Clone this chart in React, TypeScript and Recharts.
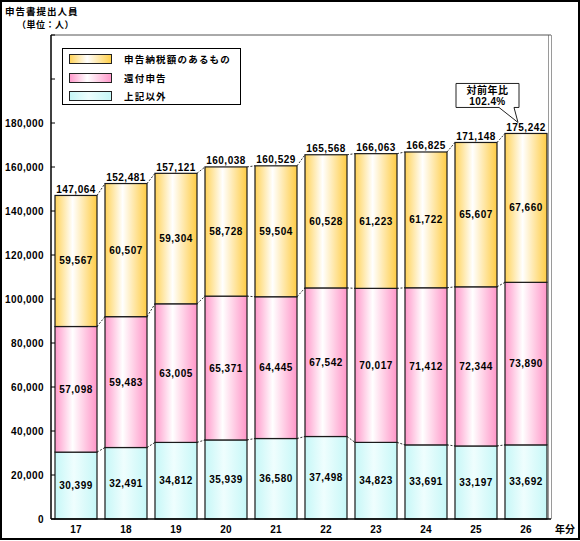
import React from 'react';
import { BarChart, Bar, XAxis, YAxis, LabelList, Legend, ReferenceLine } from 'recharts';

const years = ['17', '18', '19', '20', '21', '22', '23', '24', '25', '26'];
const others = [30399, 32491, 34812, 35939, 36580, 37498, 34823, 33691, 33197, 33692];
const refund = [57098, 59483, 63005, 65371, 64445, 67542, 70017, 71412, 72344, 73890];
const payment = [59567, 60507, 59304, 58728, 59504, 60528, 61223, 61722, 65607, 67660];
const seriesNames = ['上記以外', '還付申告', '申告納税額のあるもの'];
const yTicks = [0, 20000, 40000, 60000, 80000, 100000, 120000, 140000, 160000, 180000, 200000, 220000];
const maxLabeledTick = 180000;
const ratioText = ['対前年比', '102.4%'];
const titleText = '申告書提出人員';
const unitText = '（単位：人）';
const xUnitText = '年分';

const seriesValues = [others, refund, payment];
const seriesKeys = ['others', 'refund', 'payment'];
const gradIds = ['gCyan', 'gPink', 'gYellow'];
const edgeColors = ['#c6f7f7', '#ff9acb', '#ffd35a'];
const cssGrad = [
  'linear-gradient(90deg,#c6f7f7 0%,#eefefe 45%,#c6f7f7 100%)',
  'linear-gradient(90deg,#ff9acb 0%,#ffffff 42%,#ff9acb 100%)',
  'linear-gradient(90deg,#ffd35a 0%,#ffffff 42%,#ffcf48 100%)',
];

const data = years.map((y, i) => ({
  year: y,
  others: others[i],
  refund: refund[i],
  payment: payment[i],
  total: others[i] + refund[i] + payment[i],
}));

const CAT_GAP = 4;
const FONT = '"Liberation Sans", Arial, sans-serif';
const CJK = '"Noto Sans CJK JP", sans-serif';
const fmt = (v: number) => v.toLocaleString('en-US');

function cumulative(seriesIdx: number, i: number) {
  let s = 0;
  for (let k = 0; k <= seriesIdx; k++) s += seriesValues[k][i];
  return s;
}

function makeShape(seriesIdx: number) {
  return (props: any) => {
    const { x, y, width, height, index } = props;
    const v = seriesValues[seriesIdx][index];
    const ppu = v ? height / v : 0;
    let connector = null;
    if (index < years.length - 1) {
      const upper = cumulative(seriesIdx, index);
      const nextUpper = cumulative(seriesIdx, index + 1);
      const ny = y - (nextUpper - upper) * ppu;
      connector = (
        <line x1={x + width} y1={y} x2={x + width + 2 * CAT_GAP} y2={ny} stroke="#333" strokeWidth={1} strokeDasharray="2 1.5" />
      );
    }
    return (
      <g>
        <rect x={x} y={y} width={width} height={height} fill={`url(#${gradIds[seriesIdx]})`} stroke="#1a1a1a" strokeWidth={1.2} />
        {connector}
      </g>
    );
  };
}

const YTick = (props: any) => {
  const { x, y, payload } = props;
  if (payload.value > maxLabeledTick) return null;
  return (
    <text x={x} y={y} dy={3.5} textAnchor="end" fontFamily={FONT} fontWeight="bold" fontSize={10} letterSpacing={0.4} fill="#000">
      {fmt(payload.value)}
    </text>
  );
};

const XTick = (props: any) => {
  const { x, y, payload } = props;
  return (
    <text x={x} y={y} dy={8} textAnchor="middle" fontFamily={FONT} fontWeight="bold" fontSize={10} letterSpacing={0.3} fill="#000">
      {payload.value}
    </text>
  );
};

const segLabel = (props: any) => {
  const { x, y, width, height, value } = props;
  return (
    <text x={x + width / 2} y={y + height / 2} dy={3.5} textAnchor="middle" fontFamily={FONT} fontWeight="bold" fontSize={10} letterSpacing={0.5} fill="#000">
      {fmt(value)}
    </text>
  );
};

const totalLabel = (props: any) => {
  const { x, y, width, value, index } = props;
  const cx = x + width / 2;
  const t = (
    <text x={cx} y={y - 2.5} textAnchor="middle" fontFamily={FONT} fontWeight="bold" fontSize={10} letterSpacing={0.5} fill="#000">
      {fmt(value)}
    </text>
  );
  if (index !== years.length - 1) return t;
  const tipX = cx - 8;
  const tipY = y - 11;
  const bx = tipX - 62;
  const by = tipY - 39;
  const bw = 63;
  const bh = 24;
  const path = `M${bx},${by} H${bx + bw} V${by + bh} H${tipX - 4} L${tipX},${tipY} L${tipX - 19},${by + bh} H${bx} Z`;
  return (
    <g>
      {t}
      <path d={path} fill="#fff" stroke="#222" strokeWidth={1} />
      <text x={bx + bw / 2} y={by + 11} textAnchor="middle" fontFamily={CJK} fontWeight="bold" fontSize={10} letterSpacing={0.5} fill="#000">
        {ratioText[0]}
      </text>
      <text x={bx + bw / 2} y={by + 22} textAnchor="middle" fontFamily={FONT} fontWeight="bold" fontSize={10} letterSpacing={0.4} fill="#000">
        {ratioText[1]}
      </text>
    </g>
  );
};

const rowTops = [5, 24, 42];

const LegendBox = (props: any) => {
  const payload = (props.payload || [])
    .slice()
    .sort((a: any, b: any) => seriesKeys.indexOf(b.dataKey) - seriesKeys.indexOf(a.dataKey));
  return (
    <div style={{ position: 'relative', border: '1px solid #000', background: '#fff', width: 179, height: 57, boxSizing: 'border-box' }}>
      {payload.map((p: any, i: number) => {
        const si = seriesKeys.indexOf(p.dataKey);
        return (
          <div key={i} style={{ position: 'absolute', left: 6, top: rowTops[i], display: 'flex', alignItems: 'center', height: 10 }}>
            <div style={{ width: 43, height: 10, border: '1px solid #222', background: cssGrad[si], boxSizing: 'border-box' }} />
            <span style={{ marginLeft: 12, fontFamily: CJK, fontWeight: 'bold', fontSize: 9.5, letterSpacing: 1.2, color: '#000', lineHeight: '10px', whiteSpace: 'nowrap' }}>
              {p.value}
            </span>
          </div>
        );
      })}
    </div>
  );
};

export default function App() {
  return (
    <div style={{ position: 'absolute', left: 0, top: 0, width: 580, height: 541, background: '#fff' }}>
      <svg width={0} height={0} style={{ position: 'absolute' }}>
        <defs>
          <linearGradient id="gCyan" x1="0" y1="0" x2="1" y2="0">
            <stop offset="0%" stopColor="#c6f7f7" />
            <stop offset="45%" stopColor="#effefe" />
            <stop offset="100%" stopColor="#c6f7f7" />
          </linearGradient>
          <linearGradient id="gPink" x1="0" y1="0" x2="1" y2="0">
            <stop offset="0%" stopColor="#ff9acb" />
            <stop offset="42%" stopColor="#ffffff" />
            <stop offset="100%" stopColor="#ff96c8" />
          </linearGradient>
          <linearGradient id="gYellow" x1="0" y1="0" x2="1" y2="0">
            <stop offset="0%" stopColor="#ffd35a" />
            <stop offset="42%" stopColor="#ffffff" />
            <stop offset="100%" stopColor="#ffcc44" />
          </linearGradient>
        </defs>
      </svg>
      <div style={{ position: 'absolute', left: 0, top: 0, width: 580, height: 540, border: '2px solid #000', boxSizing: 'border-box', pointerEvents: 'none', zIndex: 3 }} />
      <svg width={120} height={34} style={{ position: 'absolute', left: 0, top: 0 }}>
        <text x={5} y={14.5} fontFamily={CJK} fontWeight="bold" fontSize={9.5} letterSpacing={1} fill="#000">
          {titleText}
        </text>
        <text x={17} y={27.8} fontFamily={CJK} fontWeight="bold" fontSize={9} letterSpacing={0.5} fill="#000">
          {unitText}
        </text>
      </svg>
      <div style={{ position: 'absolute', left: 51, top: 35, width: 497, height: 484, borderRight: '1px solid #9a9a9a', pointerEvents: 'none' }} />
      <div style={{ position: 'absolute', left: 51, top: 35, width: 500, height: 484, borderRight: '1px solid #9a9a9a', pointerEvents: 'none' }} />
      <div style={{ position: 'absolute', left: 0, top: 0 }}>
        <BarChart
          width={580}
          height={541}
          data={data}
          margin={{ top: 35, right: 29, bottom: 2, left: 6 }}
          barCategoryGap={CAT_GAP}
        >
          <XAxis
            dataKey="year"
            height={20}
            tickLine={false}
            tickSize={0}
            tickMargin={6}
            axisLine={{ stroke: '#000', strokeWidth: 1.5 }}
            tick={<XTick />}
            label={{ value: xUnitText, position: 'right', offset: 4, fontFamily: CJK, fontWeight: 'bold', fontSize: 10, fill: '#000' }}
          />
          <YAxis
            width={45}
            domain={[0, 220000]}
            ticks={yTicks}
            interval={0}
            tickSize={-4}
            tickMargin={11}
            axisLine={{ stroke: '#000', strokeWidth: 1.5 }}
            tickLine={{ stroke: '#000' }}
            tick={<YTick />}
          />
          <ReferenceLine y={220000} stroke="#555" strokeWidth={1} />
          <Legend
            layout="horizontal"
            verticalAlign="middle"
            align="center"
            content={<LegendBox />}
            wrapperStyle={{ left: 62, top: 48, width: 179, height: 57 }}
          />
          {seriesKeys.map((k, si) => (
            <Bar
              key={k}
              dataKey={k}
              name={seriesNames[si]}
              stackId="s"
              fill={edgeColors[si]}
              isAnimationActive={false}
              shape={makeShape(si)}
            >
              <LabelList dataKey={k} content={segLabel} />
              {si === seriesKeys.length - 1 ? <LabelList dataKey="total" content={totalLabel} /> : null}
            </Bar>
          ))}
        </BarChart>
      </div>
    </div>
  );
}
